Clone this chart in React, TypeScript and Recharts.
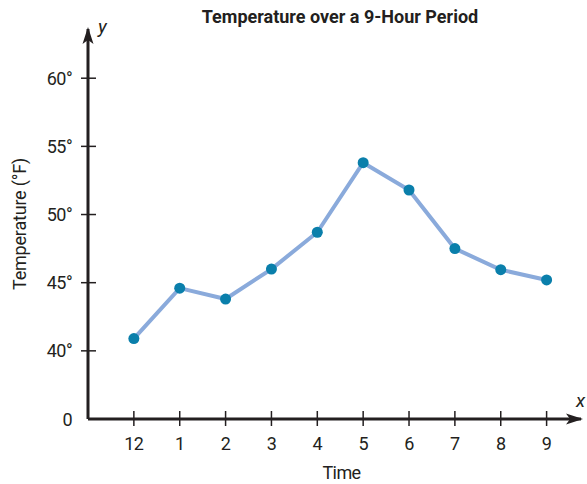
import { Label, Line, LineChart, XAxis, YAxis } from "recharts";

const TIME_LABELS = ["12", "1", "2", "3", "4", "5", "6", "7", "8", "9"];
const TEMPERATURES = [40.9, 44.6, 43.8, 46.0, 48.7, 53.8, 51.8, 47.5, 45.95, 45.2];
const Y_TICKS = [35, 40, 45, 50, 55, 60];

const data = TEMPERATURES.map((value, index) => ({ index, value }));

const FONT = 'Roboto, "DejaVu Sans Condensed", sans-serif';
const INK = "#231f20";

function YTick({ x, y, payload }: any) {
  const label = payload.value === 35 ? "0" : `${payload.value}°`;
  return (
    <g>
      {payload.value !== 35 && (
        <line x1={x - 7} x2={x + 8} y1={y} y2={y} stroke={INK} strokeWidth={1.5} />
      )}
      <text
        x={x - 16}
        y={y + 6.5}
        textAnchor="end"
        fontSize={18}
        letterSpacing={-0.6}
        fill={INK}
        fontFamily={FONT}
      >
        {label}
      </text>
    </g>
  );
}

function XTick({ x, y, payload }: any) {
  return (
    <g>
      <line x1={x} x2={x} y1={y - 8} y2={y + 7} stroke={INK} strokeWidth={1.5} />
      <text
        x={x}
        y={y + 31}
        textAnchor="middle"
        fontSize={18}
        letterSpacing={-0.6}
        fill={INK}
        fontFamily={FONT}
      >
        {TIME_LABELS[payload.value]}
      </text>
    </g>
  );
}

export default function App() {
  return (
    <div style={{ position: "absolute", left: 0, top: 0, width: 587, height: 484, background: "#fff", overflow: "hidden" }}>
      <svg width={0} height={0} style={{ position: "absolute" }}>
        <defs>
          <marker
            id="arrow"
            markerUnits="userSpaceOnUse"
            markerWidth={24}
            markerHeight={16}
            refX={2}
            refY={8}
            orient="auto-start-reverse"
            viewBox="-20 0 24 16"
          >
            <path d="M4,8 L-13,2.5 L-9,8 L-13,13.5 Z" fill={INK} />
          </marker>
        </defs>
      </svg>
      <div
        style={{
          position: "absolute",
          left: 0,
          top: 6,
          width: 680,
          textAlign: "center",
          fontFamily: FONT,
          fontWeight: 700,
          fontSize: 18,
          color: INK,
          lineHeight: "21px",
        }}
      >
        Temperature over a 9-Hour Period
      </div>
      <LineChart
        width={587}
        height={484}
        data={data}
        margin={{ top: 29, right: 6, bottom: 0, left: 0 }}
      >
        <XAxis
          dataKey="index"
          type="number"
          domain={[-1, 9.75]}
          ticks={TIME_LABELS.map((_, i) => i)}
          height={65}
          tickSize={0}
          tickMargin={0}
          tickLine={false}
          tick={<XTick />}
          axisLine={{ stroke: INK, strokeWidth: 3, markerEnd: "url(#arrow)" }}
          allowDataOverflow
        >
          <Label
            value="Time"
            position="insideBottom"
            offset={5}
            dx={7}
            fontSize={18}
            letterSpacing={-0.6}
            fill={INK}
            fontFamily={FONT}
          />
          <Label
            value="x"
            content={({ viewBox }: any) => (
              <text
                x={viewBox.x + viewBox.width - 5}
                y={viewBox.y - 12}
                fontSize={19}
                fontStyle="italic"
                fill={INK}
                fontFamily={FONT}
              >
                x
              </text>
            )}
          />
        </XAxis>
        <YAxis
          type="number"
          domain={[35, 63.61]}
          ticks={Y_TICKS}
          width={88}
          tickSize={0}
          tickMargin={0}
          tickLine={false}
          tick={<YTick />}
          axisLine={{ stroke: INK, strokeWidth: 3, markerStart: "url(#arrow)" }}
          allowDataOverflow
        >
          <Label
            value="Temperature (°F)"
            angle={-90}
            position="insideLeft"
            offset={20}
            fontSize={18}
            letterSpacing={-0.2}
            fill={INK}
            fontFamily={FONT}
            style={{ textAnchor: "middle" }}
          />
          <Label
            value="y"
            content={({ viewBox }: any) => (
              <text
                x={viewBox.x + viewBox.width + 10}
                y={viewBox.y + 4}
                fontSize={19}
                fontStyle="italic"
                fill={INK}
                fontFamily={FONT}
              >
                y
              </text>
            )}
          />
        </YAxis>
        <Line
          dataKey="value"
          type="linear"
          stroke="#8aaadb"
          strokeWidth={4}
          dot={{ r: 5.5, fill: "#0a7fab", stroke: "none" }}
          activeDot={false}
          isAnimationActive={false}
        />
      </LineChart>
    </div>
  );
}
